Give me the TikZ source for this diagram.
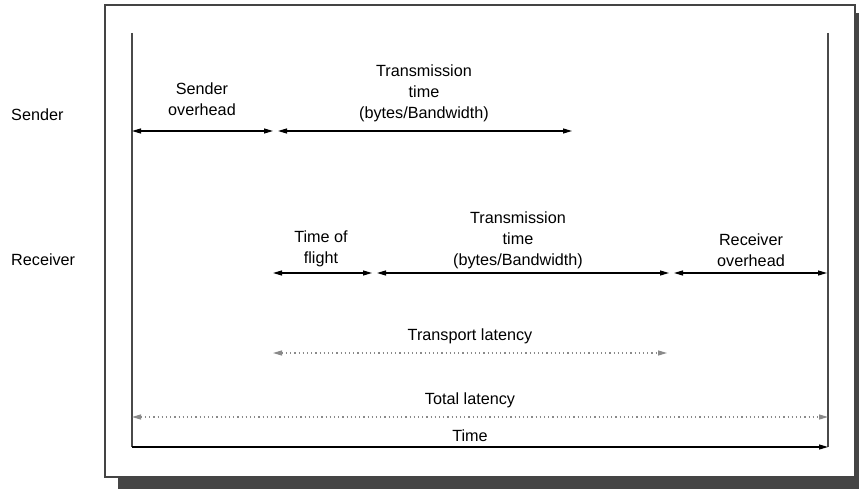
\documentclass[tikz,border=0pt]{standalone}
\usepackage{fontspec}
\setmainfont{Liberation Sans}
\usetikzlibrary{arrows.meta}
\definecolor{frameC}{HTML}{444444}
\definecolor{shadowC}{HTML}{454545}
\definecolor{axisC}{HTML}{4A4A4A}
\definecolor{dotC}{HTML}{8A8A8A}
\begin{document}
\begin{tikzpicture}[x=1pt,y=-1pt,
  lbl/.style={font=\fontsize{16.2}{21}\selectfont, align=center, inner sep=0pt},
  span/.style={line width=1.2pt, {Triangle[length=9pt,width=5pt]}-{Triangle[length=9pt,width=5pt]}},
  dotspan/.style={dotC, line width=1.2pt, dash pattern=on 1.2pt off 3pt, {Triangle[length=9pt,width=5pt]}-{Triangle[length=9pt,width=5pt]}},
  vline/.style={axisC, line width=1.6pt}]
\useasboundingbox (0,0) rectangle (859,489);
% shadow
\fill[shadowC] (118,478) rectangle (859,489);
\fill[shadowC] (855,13) rectangle (859,489);
% frame
\draw[frameC, line width=1.5pt, fill=white] (105,5) rectangle (855,477);
% vertical lines
\coordinate (LT) at (132,33);
\coordinate (LB) at (132,447);
\coordinate (RT) at (828,33);
\coordinate (RB) at (828,447);
\draw[vline] (LT) -- (LB);
\draw[vline] (RT) -- (RB);
% row labels
\node[lbl, anchor=west] (sender) at (11,115) {Sender};
\node[lbl, anchor=west] (receiver) at (11,260) {Receiver};
% sender row
\coordinate (s0) at (132,131);
\coordinate (s1) at (273,131);
\coordinate (s2) at (278,131);
\coordinate (s3) at (572,131);
\draw[span] (s0) -- (s1);
\draw[span] (s2) -- (s3);
\node[lbl] (so) at (202,99) {Sender\\overhead};
\node[lbl] (tt1) at (424,93) {Transmission\\time\\(bytes/Bandwidth)};
% receiver row
\coordinate (r0) at (273,273);
\coordinate (r1) at (372,273);
\coordinate (r2) at (377,273);
\coordinate (r3) at (669,273);
\coordinate (r4) at (674,273);
\coordinate (r5) at (827,273);
\draw[span] (r0) -- (r1);
\draw[span] (r2) -- (r3);
\draw[span] (r4) -- (r5);
\node[lbl] (tof) at (321,249) {Time of\\flight};
\node[lbl] (tt2) at (518,240) {Transmission\\time\\(bytes/Bandwidth)};
\node[lbl] (ro) at (751,250) {Receiver\\overhead};
% transport latency
\coordinate (t0) at (273,353);
\coordinate (t1) at (667,353);
\draw[dotspan] (t0) -- (t1);
\node[lbl] (tl) at (470,336) {Transport latency};
% total latency
\coordinate (a0) at (132,417);
\coordinate (a1) at (828,417);
\draw[dotspan] (a0) -- (a1);
\node[lbl] (tot) at (470,400) {Total latency};
% time axis
\draw[line width=1.2pt, -{Triangle[length=9pt,width=5pt]}] (LB) -- (RB);
\node[lbl] (time) at (470,436) {Time};
\end{tikzpicture}
\end{document}
